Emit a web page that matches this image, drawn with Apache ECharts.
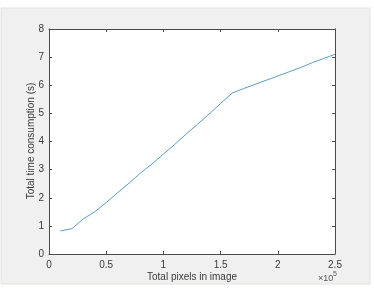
<!DOCTYPE html>
<html><head><meta charset="utf-8">
<script src="https://cdn.jsdelivr.net/npm/echarts@6/dist/echarts.min.js"></script>
<style>html,body{margin:0;padding:0;background:#fff}#c{width:374px;height:300px}</style>
</head><body><div id="c"></div>
<script>
const pixelsE5 = [0.1,0.2,0.3,0.4,0.5,0.6,0.7,0.8,0.9,1.0,1.1,1.2,1.3,1.4,1.5,1.6,1.7,1.8,1.9,2.0,2.1,2.2,2.3,2.4,2.5];
const timeSec = [0.82,0.9,1.25,1.5,1.83,2.18,2.52,2.88,3.2,3.55,3.9,4.27,4.62,4.98,5.35,5.72,5.88,6.03,6.18,6.33,6.48,6.63,6.8,6.95,7.1];
const xTicks = [0,0.5,1,1.5,2,2.5];
const yTicks = [0,1,2,3,4,5,6,7,8];
const xTitle = 'Total pixels in image';
const yTitle = 'Total time consumption (s)';

const chart = echarts.init(document.getElementById('c'));
const font = 'Liberation Sans, Arial, sans-serif';
const axisCol = '#4a4a4a';
const lbl = {color:'#3a3a3a', fontSize:10, fontFamily:font};
function xAx(pos, showLabels){
  return {type:'value', position:pos, min:0, max:2.5, interval:0.5,
    axisLine:{show:true, onZero:false, lineStyle:{color:axisCol,width:1}},
    axisTick:{show:true, inside:true, length:3, lineStyle:{color:axisCol}},
    axisLabel:{show:showLabels, ...lbl, margin:6, formatter:v=>String(v)},
    splitLine:{show:false}};
}
function yAx(pos, showLabels){
  return {type:'value', position:pos, min:0, max:8, interval:1,
    axisLine:{show:true, onZero:false, lineStyle:{color:axisCol,width:1}},
    axisTick:{show:true, inside:true, length:3, lineStyle:{color:axisCol}},
    axisLabel:{show:showLabels, ...lbl, margin:5},
    splitLine:{show:false}};
}
chart.setOption({
  animation:false,
  backgroundColor:'#fff',
  graphic:[
    {type:'rect', shape:{x:1,y:8,width:369,height:276}, style:{fill:'#f0f0f0', stroke:'#e2e4dc', lineWidth:1}, z:-10},
    {type:'rect', shape:{x:49,y:29,width:286,height:225}, style:{fill:'#fff'}, z:-9},
    {type:'text', x:192, y:277, style:{text:xTitle, fill:'#3a3a3a', fontSize:10, fontFamily:font, align:'center', verticalAlign:'middle'}},
    {type:'text', x:31, y:141, rotation:Math.PI/2, style:{text:yTitle, fill:'#3a3a3a', fontSize:10, fontFamily:font, align:'center', verticalAlign:'middle'}},
    {type:'text', x:318, y:279, style:{text:'×10', fill:'#555', fontSize:9, fontFamily:font, verticalAlign:'middle'}},
    {type:'text', x:333, y:274, style:{text:'5', fill:'#555', fontSize:7, fontFamily:font, verticalAlign:'middle'}}
  ],
  grid:{left:49, top:29, width:286, height:225, containLabel:false},
  xAxis:[xAx('bottom',true), xAx('top',false)],
  yAxis:[yAx('left',true), yAx('right',false)],
  series:[{type:'line', data:pixelsE5.map((x,i)=>[x,timeSec[i]]), showSymbol:false,
    lineStyle:{color:'#5a9ec2', width:1}, itemStyle:{color:'#5a9ec2'}}]
});
</script></body></html>
